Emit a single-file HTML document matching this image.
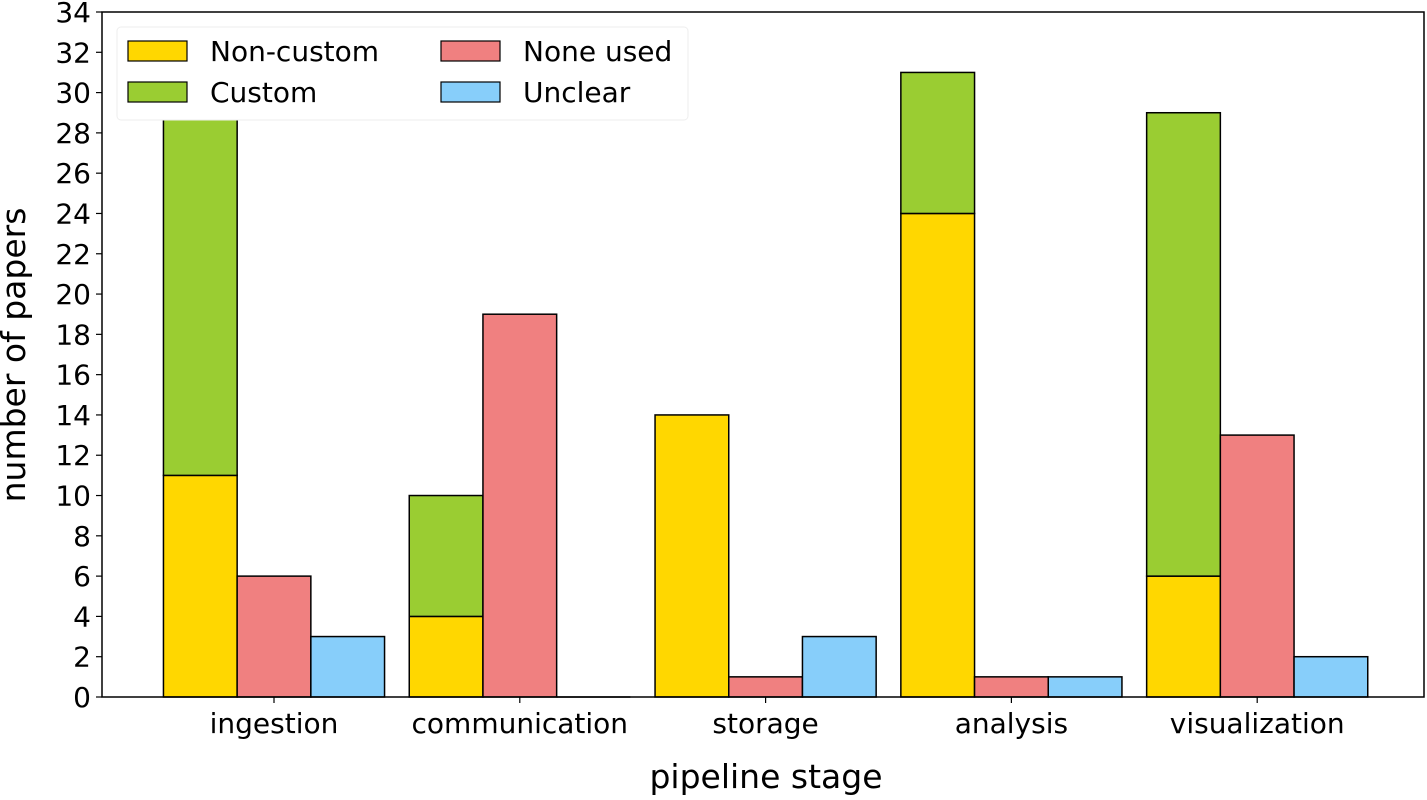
<!DOCTYPE html>
<html><head><meta charset="utf-8"><style>
body{margin:0;background:#fff;}
svg text{font-family:"DejaVu Sans","Liberation Sans",sans-serif;fill:#000;}
</style></head><body>
<svg id="c" width="1427" height="795"></svg>
<script>
const categories=["ingestion","communication","storage","analysis","visualization"];
const nonCustom=[11,4,14,24,6];
const custom=[22,6,0,7,23];
const noneUsed=[6,19,1,1,13];
const unclear=[3,0,3,1,2];
const yTicks=[0,2,4,6,8,10,12,14,16,18,20,22,24,26,28,30,32,34];
const NS="http://www.w3.org/2000/svg";
const svg=document.getElementById('c');
const L=102,R=1424,T=12,B=697,ymax=34;
const y=v=>B-v/ymax*(B-T);
const xc=i=>274+i*245.8;
const bw=73.7;
function mk(tag,attrs,parent){const e=document.createElementNS(NS,tag);for(const k in attrs)e.setAttribute(k,attrs[k]);(parent||svg).appendChild(e);return e;}
function bar(x,v0,v1,fill,name){
  if(v1===v0)return;
  const r=mk('rect',{x:x,y:y(v1),width:bw,height:y(v0)-y(v1),fill:fill,stroke:'#000','stroke-width':1.5});
  
  
}
categories.forEach((c,i)=>{
  const x0=xc(i)-1.5*bw;
  bar(x0,0,nonCustom[i],'#ffd700','bar-noncustom-'+c);
  bar(x0,nonCustom[i],nonCustom[i]+custom[i],'#9acd32','bar-custom-'+c);
  bar(x0+bw,0,noneUsed[i],'#f08080','bar-noneused-'+c);
  if(unclear[i]>0)bar(x0+2*bw,0,unclear[i],'#87cefa','bar-unclear-'+c);
  else mk('line',{x1:x0+2*bw,x2:x0+3*bw,y1:B,y2:B,stroke:'#000','stroke-width':1.5});
  const t=mk('text',{x:xc(i),y:B+36,'text-anchor':'middle','font-size':28});
  t.textContent=c;
  
  
  mk('line',{x1:xc(i),x2:xc(i),y1:B,y2:B+6,stroke:'#000','stroke-width':1.2});
});
yTicks.forEach(v=>{
  mk('line',{x1:L-6,x2:L,y1:y(v),y2:y(v),stroke:'#000','stroke-width':1.2});
  const t=mk('text',{x:L-11,y:y(v)+10,'text-anchor':'end','font-size':28});
  t.textContent=v;
  
  
});
const f=mk('rect',{x:L,y:T,width:R-L,height:B-T,fill:'none',stroke:'#000','stroke-width':1.5});


const xt=mk('text',{x:766,y:788,'text-anchor':'middle','font-size':33});
xt.textContent='pipeline stage';


const yt=mk('text',{x:0,y:0,'text-anchor':'middle','font-size':33,transform:'translate(25,355) rotate(-90)'});
yt.textContent='number of papers';


const lg=mk('g',{});


mk('rect',{x:117,y:27,width:571,height:93,rx:4,fill:'#fff',stroke:'#eee','stroke-width':1},lg);
const items=[["Non-custom","#ffd700",128,41],["Custom","#9acd32",128,82],["None used","#f08080",441,41],["Unclear","#87cefa",441,82]];
items.forEach(it=>{
  const g=mk('g',{},lg);
  
  
  mk('rect',{x:it[2],y:it[3],width:59,height:20,fill:it[1],stroke:'#000','stroke-width':1.2},g);
  const t=mk('text',{x:it[2]+82,y:it[3]+20,'font-size':28},g);
  t.textContent=it[0];
});
</script>
</body></html>
